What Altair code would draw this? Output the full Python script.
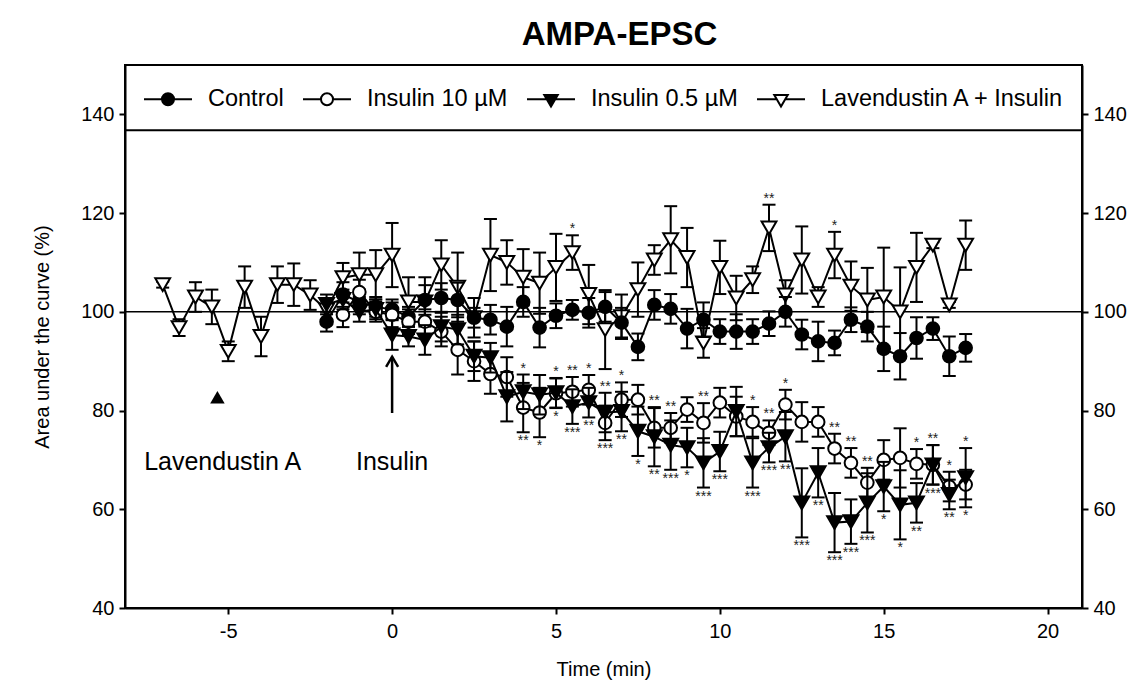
import altair as alt
import pandas as pd

FONT = "Liberation Sans"

series_names = ["Control", "Insulin 10 µM", "Insulin 0.5 µM", "Lavendustin A + Insulin"]

# ---- Lavendustin A + Insulin (open down-triangles) ----
lav_t = [-7, -6.5, -6, -5.5, -5, -4.5, -4, -3.5, -3, -2.5, -2, -1.5, -1, -0.5, 0, 0.5, 1, 1.5, 2, 2.5,
         3, 3.5, 4, 4.5, 5, 5.5, 6, 6.5, 7, 7.5, 8, 8.5, 9, 9.5, 10, 10.5, 11, 11.5, 12, 12.5,
         13, 13.5, 14, 14.5, 15, 15.5, 16, 16.5, 17, 17.5]
lav_m = [105.5, 96.8, 103, 101, 92, 105, 95, 105.5, 105.5, 103.4, 100.4, 106.9, 107.5, 107.5, 111.5, 102, 102, 109.5, 105, 98.8,
         111.5, 110, 107, 105.8, 109, 112, 103.5, 96.4, 99, 104.5, 110.5, 114.6, 111, 93.7, 109, 102.8, 106.5, 117, 103.4, 110.5,
         103, 111.5, 105.2, 102.4, 103, 100, 109, 113.5, 101.4, 113.5]
lav_e = [0.6, 1.7, 3, 3.5, 2, 4.2, 4, 3.7, 4.3, 3, 2, 3, 4.5, 5, 6.5, 5, 5, 5, 7, 4,
         7.3, 4.5, 5.7, 6.2, 6.8, 3.5, 6, 8, 4.5, 5.5, 3, 6.8, 6, 3, 5.4, 4.5, 2.7, 4.7, 3, 6.8,
         2, 4.7, 5, 6.5, 10, 9, 7, 0.6, 0.6, 5]

# ---- Control (filled circles) ----
ctl_t = [-2, -1.5, -1, -0.5, 0, 0.5, 1, 1.5, 2, 2.5, 3, 3.5, 4, 4.5, 5, 5.5, 6, 6.5, 7, 7.5,
         8, 8.5, 9, 9.5, 10, 10.5, 11, 11.5, 12, 12.5, 13, 13.5, 14, 14.5, 15, 15.5, 16, 16.5, 17, 17.5]
ctl_m = [98, 103.5, 102, 101, 100.5, 99, 102.4, 102.8, 102.4, 98.8, 98.4, 97, 102, 96.8, 99.2, 100.4, 99.8, 101, 97.8, 92.9,
         101.4, 100.6, 96.6, 98.4, 96, 96, 96, 97.6, 100, 95.4, 94, 93.7, 98.4, 97, 92.5, 91, 94.7, 96.6, 91, 92.7]
ctl_e = [2, 2.5, 2.5, 2, 2, 2, 3, 3, 3.5, 2, 3, 4, 3, 4, 2.5, 2, 3, 3, 3, 2.7,
         3, 3, 4, 3.5, 2.5, 3.5, 2.5, 2.5, 3, 3, 4, 2.5, 2.5, 3, 4.5, 4.7, 4.2, 2.3, 4, 2.8]

# ---- Insulin 10 uM (open circles) ----
i10_t = [-1.5, -1, -0.5, 0, 0.5, 1, 1.5, 2, 2.5, 3, 3.5, 4, 4.5, 5, 5.5, 6, 6.5, 7, 7.5, 8,
         8.5, 9, 9.5, 10, 10.5, 11, 11.5, 12, 12.5, 13, 13.5, 14, 14.5, 15, 15.5, 16, 16.5, 17, 17.5]
i10_m = [99.4, 104, 100, 99.4, 98, 98, 96, 92.3, 90, 87.4, 86.8, 80.6, 79.6, 83.5, 83.8, 84.2, 77.5, 82.2, 82.2, 76.5,
         76.5, 80.2, 77.5, 81.6, 78.8, 77.7, 75.5, 81.2, 77.7, 77.7, 72.3, 69.4, 65.4, 70, 70.4, 69.2, 69, 64.6, 65]
i10_e = [2.5, 2.5, 2, 2.5, 2.5, 2.5, 3, 5, 4, 4, 4, 5, 5, 3, 3, 3, 3.5, 3.5, 3, 4,
         3, 2.5, 4, 3, 4, 3, 2.5, 3, 4, 3, 3, 3, 3, 4, 6, 3, 4, 3, 3]

# ---- Insulin 0.5 uM (filled down-triangles) ----
i05_t = [-2, -1.5, -1, -0.5, 0, 0.5, 1, 1.5, 2, 2.5, 3, 3.5, 4, 4.5, 5, 5.5, 6, 6.5, 7, 7.5,
         8, 8.5, 9, 9.5, 10, 10.5, 11, 11.5, 12, 12.5, 13, 13.5, 14, 14.5, 15, 15.5, 16, 16.5, 17, 17.5]
i05_m = [101.5, 102.5, 100, 100.5, 95.3, 95, 94.3, 97, 96.4, 91, 90.7, 82.8, 83.8, 83.2, 83.6, 80.8, 81.6, 79.6, 79.8, 75.8,
         74.7, 73, 72.5, 69.4, 71.7, 79.8, 69.4, 72.5, 74.7, 61.3, 67.4, 57.3, 57.5, 61.3, 64.6, 60.9, 61.3, 69, 63, 66.4]
i05_e = [2, 2, 2, 2, 3, 2, 3, 3, 3, 3, 3, 5, 3.5, 4, 3, 3.5, 3, 4, 4, 5,
         6, 5, 4, 5, 4, 5, 5, 3, 5, 7, 5, 6, 4.5, 6, 5, 7, 4, 4, 3, 6]

# ---- significance stars ----
up_t = [4, 5, 5.5, 6, 6.5, 7, 8, 8.5, 9.5, 11, 11.5, 12, 13.5, 14, 14.5, 16, 16.5, 17, 17.5]
up_lab = ["*", "*", "**", "*", "**", "*", "**", "**", "**", "*", "**", "*", "**", "**", "**", "*", "**", "*", "*"]
lo_t = [4, 4.5, 5, 5.5, 6, 6.5, 7, 7.5, 8, 8.5, 9, 9.5, 10, 11, 11.5, 12, 12.5, 13, 13.5, 14, 14.5, 15, 15.5, 16, 16.5, 17, 17.5]
lo_lab = ["**", "*", "*", "***", "**", "***", "**", "*", "**", "***", "*", "***", "***", "***", "***", "**", "***", "**",
          "***", "***", "***", "*", "*", "**", "***", "**", "*"]
lav_star_t = [5.5, 11.5, 13.5]
lav_star_lab = ["*", "**", "*"]

# ---- annotations ----
ann_text = ["Lavendustin A", "Insulin"]
ann_t = [-5.17, 0]
ann_y = [69.6, 69.6]
lavmark_t = [-5.33]
lavmark_y = [82.7]
arrow_t = [0]
arrow_y0 = [79.5]
arrow_y1 = [90.9]

x_ticks = [-5, 0, 5, 10, 15, 20]
y_ticks = [40, 60, 80, 100, 120, 140]
ref_line = [100]
legend_line = [136.8]


def frame(t, m, e):
    df = pd.DataFrame({"t": t, "m": m, "e": e})
    df["lo"] = df["m"] - df["e"]
    df["hi"] = df["m"] + df["e"]
    return df


lav = frame(lav_t, lav_m, lav_e)
ctl = frame(ctl_t, ctl_m, ctl_e)
i10 = frame(i10_t, i10_m, i10_e)
i05 = frame(i05_t, i05_m, i05_e)

both = i10.merge(i05, on="t", suffixes=("_a", "_b"))
both["top"] = both[["hi_a", "hi_b"]].max(axis=1)
both["bot"] = both[["lo_a", "lo_b"]].min(axis=1)
stars_up = pd.DataFrame({"t": up_t, "lab": up_lab}).merge(both[["t", "top"]], on="t").rename(columns={"top": "y"})
stars_lo = pd.DataFrame({"t": lo_t, "lab": lo_lab}).merge(both[["t", "bot"]], on="t").rename(columns={"bot": "y"})
stars_lav = pd.DataFrame({"t": lav_star_t, "lab": lav_star_lab}).merge(lav[["t", "hi"]], on="t").rename(columns={"hi": "y"})

xscale = alt.Scale(domain=[-8.15, 21.05], nice=False, zero=False)
yscale = alt.Scale(domain=[40, 150], nice=False, zero=False)
xaxis = alt.Axis(values=x_ticks, title="Time (min)", labelExpr="'' + datum.value", labelPadding=7,
                 titlePadding=18)
yaxis = alt.Axis(values=y_ticks, title="Area under the curve (%)", labelPadding=5, titlePadding=28)


def X(f):
    return alt.X(f, type="quantitative", scale=xscale, axis=xaxis)


def Y(f):
    return alt.Y(f, type="quantitative", scale=yscale, axis=yaxis)


def series_layers(df, shape, fill, size):
    base = alt.Chart(df)
    bars = base.mark_rule(color="black", strokeWidth=2).encode(x=X("t"), y=Y("lo"), y2="hi")
    caps = base.transform_fold(["lo", "hi"], as_=["k", "v"]).mark_tick(
        orient="horizontal", size=13, thickness=2, color="black", opacity=1
    ).encode(x=X("t"), y=Y("v"))
    line = base.mark_line(color="black", strokeWidth=2).encode(x=X("t"), y=Y("m"))
    pts = base.mark_point(shape=shape, filled=True, fill=fill, stroke="black", strokeWidth=2,
                          size=size, opacity=1).encode(x=X("t"), y=Y("m"))
    return [bars, caps, line, pts]


hline = alt.Chart(pd.DataFrame({"y": ref_line})).mark_rule(color="black", strokeWidth=1.5).encode(y=Y("y"))

layers = [hline]
layers += series_layers(lav, "triangle-down", "white", 220)
layers += series_layers(ctl, "circle", "black", 160)
layers += series_layers(i10, "circle", "white", 160)
layers += series_layers(i05, "triangle-down", "black", 220)

star_style = dict(font=FONT, fontSize=14, color="#222222")
layers.append(alt.Chart(stars_up).mark_text(baseline="bottom", dy=1, **star_style).encode(x=X("t"), y=Y("y"), text="lab:N"))
layers.append(alt.Chart(stars_lav).mark_text(baseline="bottom", dy=1, **star_style).encode(x=X("t"), y=Y("y"), text="lab:N"))
layers.append(alt.Chart(stars_lo).mark_text(baseline="top", dy=2, **star_style).encode(x=X("t"), y=Y("y"), text="lab:N"))

ann_df = pd.DataFrame({"t": ann_t, "y": ann_y, "txt": ann_text})
layers.append(alt.Chart(ann_df).mark_text(font=FONT, fontSize=25, color="black", baseline="middle").encode(
    x=X("t"), y=Y("y"), text="txt:N"))
lavmark_df = pd.DataFrame({"t": lavmark_t, "y": lavmark_y})
layers.append(alt.Chart(lavmark_df).mark_point(shape="triangle-up", filled=True, color="black", size=210, opacity=1).encode(
    x=X("t"), y=Y("y")))
arrow_df = pd.DataFrame({"t": arrow_t, "y0": arrow_y0, "y1": arrow_y1})
layers.append(alt.Chart(arrow_df).mark_rule(color="black", strokeWidth=2.5).encode(x=X("t"), y=Y("y0"), y2="y1"))
layers.append(alt.Chart(arrow_df).mark_point(shape="M-1,1.7L0,0L1,1.7", filled=False, stroke="black", strokeWidth=2.5,
                                             size=144, opacity=1).encode(x=X("t"), y=Y("y1")))

# legend (real Vega-Lite legend, symbols include the connecting line)
circ_path = "M-1,0L-0.25,0M0.25,0L1,0M-0.25,0A0.25,0.25,0,1,0,0.25,0A0.25,0.25,0,1,0,-0.25,0Z"
tri_path = "M-1,0L-0.17,0M0.17,0L1,0M-0.28,-0.18L0.28,-0.18L0,0.3Z"
leg = alt.Legend(title=None, orient="none", legendX=18, legendY=9, direction="horizontal", columns=4,
                 labelFont=FONT, labelFontSize=23.5, labelColor="black", labelOffset=15, columnPadding=15,
                 padding=0, symbolSize=2304, symbolStrokeWidth=2, labelLimit=400)
legend_df = pd.DataFrame({"series": series_names, "t": [0, 0, 0, 0], "m": [100, 100, 100, 100]})
layers.append(alt.Chart(legend_df).transform_filter("false").mark_point(
    size=2304, filled=True, strokeWidth=2, opacity=1).encode(
    x=X("t"), y=Y("m"),
    shape=alt.Shape("series:N", scale=alt.Scale(domain=series_names, range=[circ_path, circ_path, tri_path, tri_path]), legend=leg),
    fill=alt.Fill("series:N", scale=alt.Scale(domain=series_names, range=["black", "white", "black", "white"]), legend=leg),
    stroke=alt.Stroke("series:N", scale=alt.Scale(domain=series_names, range=["black", "black", "black", "black"]), legend=leg),
))

main = alt.layer(*layers)

sep = alt.Chart(pd.DataFrame({"y": legend_line})).mark_rule(color="black", strokeWidth=2).encode(
    y=alt.Y("y:Q", scale=yscale, axis=alt.Axis(orient="right", values=y_ticks, title=None, labelPadding=5)))

chart = alt.layer(main, sep).resolve_scale(y="independent").properties(
    width=957, height=543,
    padding={"left": 125, "top": 65, "right": 60, "bottom": 78},
    autosize=alt.AutoSizeParams(type="none"),
    title=alt.TitleParams("AMPA-EPSC", font=FONT, fontSize=33, fontWeight="bold", anchor="middle",
                          frame="group", dx=16, dy=33, offset=20, baseline="alphabetic", color="black"),
    background="white",
).configure_view(stroke="black", strokeWidth=2).configure_axis(
    labelFont=FONT, titleFont=FONT, labelFontSize=20, titleFontSize=20, titleFontWeight="normal",
    labelColor="black", titleColor="black", domainColor="black", domainWidth=2,
    tickColor="black", tickWidth=2, tickSize=6, grid=False,
)

chart.save("out.html", embed_options={"renderer": "svg", "actions": False})
